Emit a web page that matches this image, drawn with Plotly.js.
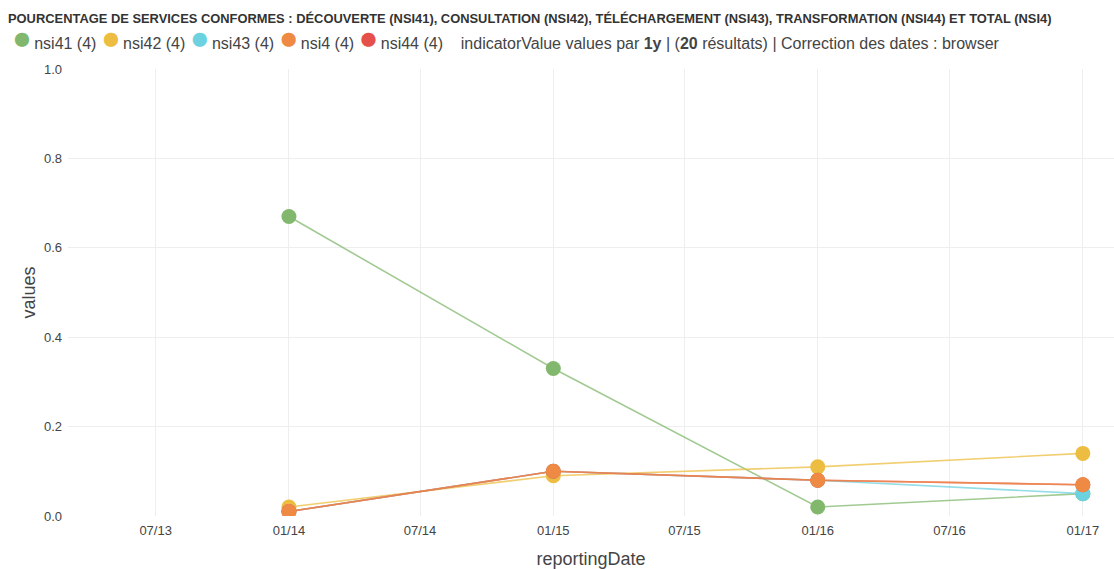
<!DOCTYPE html>
<html>
<head>
<meta charset="utf-8">
<script src="https://cdn.plot.ly/plotly-3.0.1.min.js"></script>
<style>html,body{margin:0;padding:0;background:#fff;}#chart{width:1114px;height:569px;}</style>
</head>
<body>
<div id="chart"></div>
<script>
const dates = ['2014-01-01', '2015-01-01', '2016-01-01', '2017-01-01'];
const nsi41 = [0.67, 0.33, 0.02, 0.05];
const nsi42 = [0.02, 0.09, 0.11, 0.14];
const nsi43 = [0.01, 0.10, 0.08, 0.05];
const nsi44 = [0.01, 0.10, 0.08, 0.07];
const nsi4  = [0.01, 0.10, 0.08, 0.07];

const seriesNames = ['nsi41 (4)', 'nsi42 (4)', 'nsi43 (4)', 'nsi4 (4)', 'nsi44 (4)'];
const seriesData = [nsi41, nsi42, nsi43, nsi4, nsi44];
const seriesColors = ['#82b86e', '#ecbd40', '#6dd2df', '#ef8a45', '#e5514a'];
// drawing order: nsi44 below nsi4
const drawOrder = [0, 1, 2, 4, 3];

function rgba(hex, a) {
  const n = parseInt(hex.slice(1), 16);
  return 'rgba(' + ((n >> 16) & 255) + ',' + ((n >> 8) & 255) + ',' + (n & 255) + ',' + a + ')';
}

const traces = drawOrder.map(i => ({
  x: dates, y: seriesData[i], type: 'scatter', mode: 'lines+markers',
  name: seriesNames[i], showlegend: false,
  line: {color: rgba(seriesColors[i], 0.75), width: 1.6},
  marker: {color: seriesColors[i], size: 15, line: {width: 0}},
  hoverinfo: 'x+y+name'
}));

const legendText = seriesNames.map((n, i) =>
  '<span style="color:' + seriesColors[i] + ';font-size:33px">●</span><span style="font-size:8px">&nbsp;</span>' + n
).join(' ') + '&nbsp;&nbsp;&nbsp;&nbsp;indicatorValue values par <b>1y</b> | (<b>20</b> résultats) | Correction des dates : browser';

const layout = {
  width: 1114, height: 569,
  margin: {l: 68, r: 0, t: 69, b: 53},
  paper_bgcolor: '#fff', plot_bgcolor: '#fff',
  font: {family: 'Liberation Sans, Arial, sans-serif', color: '#444', size: 13},
  title: {
    text: '<b>POURCENTAGE DE SERVICES CONFORMES : DÉCOUVERTE (NSI41), CONSULTATION (NSI42), TÉLÉCHARGEMENT (NSI43), TRANSFORMATION (NSI44) ET TOTAL (NSI4)</b>',
    font: {size: 12.9, color: '#333', family: 'Liberation Sans, Arial, sans-serif'},
    x: 0, xref: 'paper', xanchor: 'left', y: 0.968, yref: 'container', yanchor: 'middle', pad: {l: -60}
  },
  showlegend: false,
  xaxis: {
    type: 'date',
    range: ['2013-03-02', '2017-02-13'],
    tick0: '2013-07-01', dtick: 'M6', tickformat: '%m/%y',
    showgrid: true, gridcolor: '#eeeeee', zeroline: false, showline: false,
    ticks: '', ticklabelstandoff: 5, tickfont: {size: 13, color: '#444'},
    title: {text: 'reportingDate', font: {size: 18, color: '#444'}, standoff: 15}
  },
  yaxis: {
    range: [0, 1], dtick: 0.2, tickformat: '.1f',
    showgrid: true, gridcolor: '#eeeeee', zeroline: false, showline: false,
    ticks: '', ticklabelstandoff: 5, tickfont: {size: 13, color: '#444'},
    title: {text: 'values', font: {size: 18, color: '#444'}, standoff: 3}
  },
  annotations: [{
    text: legendText,
    xref: 'paper', yref: 'paper', x: -0.0545, y: 1.07, xanchor: 'left', yanchor: 'middle',
    showarrow: false, font: {size: 16, color: '#444'}, borderpad: 0
  }]
};

Plotly.newPlot('chart', traces, layout, {displayModeBar: false});
</script>
</body>
</html>
